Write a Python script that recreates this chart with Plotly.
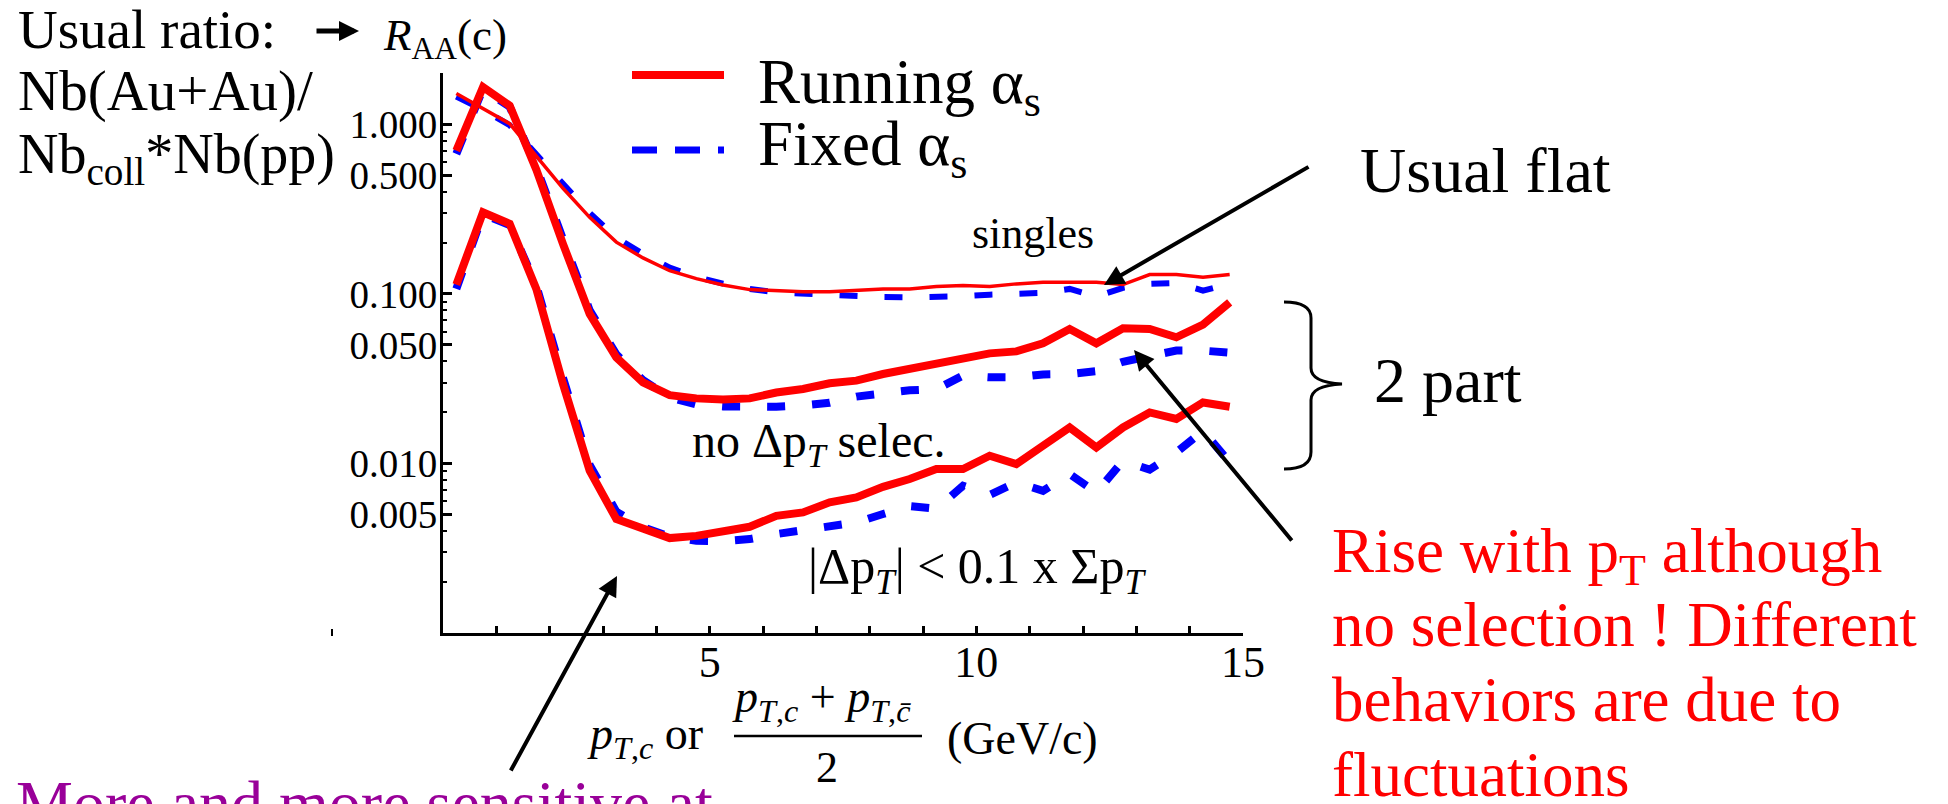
import plotly.graph_objects as go

# ---------------- data ----------------
pt = [0.25, 0.75, 1.25, 1.75, 2.25, 2.75, 3.25, 3.75, 4.25, 4.75,
      5.25, 5.75, 6.25, 6.75, 7.25, 7.75, 8.25, 8.75, 9.25, 9.75,
      10.25, 10.75, 11.25, 11.75, 12.25, 12.75, 13.25, 13.75, 14.25, 14.75]

singles_running = [1.52, 1.24, 1.01, 0.65, 0.42, 0.283, 0.202, 0.163, 0.137, 0.123,
                   0.113, 0.106, 0.104, 0.103, 0.103, 0.1056, 0.107, 0.107, 0.1105, 0.112,
                   0.1105, 0.1146, 0.117, 0.117, 0.117, 0.1135, 0.130, 0.130, 0.1253, 0.130]
singles_fixed = [1.46, 1.22, 0.99, 0.67, 0.44, 0.30, 0.215, 0.172, 0.143, 0.126,
                 0.115, 0.107, 0.102, 0.100, 0.099, 0.0975, 0.0958, 0.0955, 0.0955, 0.097,
                 0.099, 0.1008, 0.1014, 0.1070, 0.0965, 0.1086, 0.1146, 0.116, 0.1046, 0.1146]
pair_running = [0.70, 1.66, 1.29, 0.54, 0.197, 0.0762, 0.0422, 0.0301, 0.0253, 0.0242,
                0.0238, 0.0242, 0.0262, 0.0275, 0.0297, 0.0308, 0.0337, 0.0361, 0.0389, 0.0413,
                0.0446, 0.0458, 0.0511, 0.0621, 0.0511, 0.0627, 0.0621, 0.0555, 0.0659, 0.0892]
pair_fixed = [0.67, 1.62, 1.27, 0.56, 0.21, 0.080, 0.044, 0.031, 0.0245, 0.0223,
              0.0217, 0.0216, 0.0216, 0.0220, 0.0228, 0.0248, 0.0259, 0.0270, 0.0274, 0.0330,
              0.0322, 0.0322, 0.0335, 0.0337, 0.0350, 0.0398, 0.0430, 0.0463, 0.0463, 0.0450]
sel_running = [0.1135, 0.303, 0.259, 0.107, 0.0294, 0.00906, 0.0047, 0.0041, 0.00363, 0.00374,
               0.00401, 0.00423, 0.00491, 0.00514, 0.0059, 0.0063, 0.00728, 0.00809, 0.00927, 0.00927,
               0.0111, 0.00992, 0.01272, 0.0163, 0.01243, 0.0163, 0.0200, 0.0183, 0.0229, 0.0216]
sel_fixed = [0.107, 0.295, 0.255, 0.112, 0.032, 0.0098, 0.0052, 0.0042, 0.0037, 0.0035,
             0.00348, 0.00358, 0.00383, 0.00404, 0.00423, 0.00449, 0.00503, 0.0056, 0.0054, 0.00738,
             0.00653, 0.00773, 0.0069, 0.00866, 0.00675, 0.01037, 0.0092, 0.0116, 0.0156, 0.01014]

x_tick_vals = [5, 10, 15]
x_tick_text = ["5", "10", "15"]
x_minor_vals = [0, 1, 2, 3, 4, 6, 7, 8, 9, 11, 12, 13, 14]
y_tick_vals = [0.005, 0.01, 0.05, 0.1, 0.5, 1.0]
y_tick_text = ["0.005", "0.010", "0.050", "0.100", "0.500", "1.000"]
y_minor_vals = [0.002, 0.003, 0.004, 0.006, 0.007, 0.008, 0.009,
                0.02, 0.03, 0.04, 0.06, 0.07, 0.08, 0.09,
                0.2, 0.3, 0.4, 0.6, 0.7, 0.8, 0.9, 2.0]

# ---------------- layout geometry (window pixels) ----------------
W, H = 1948, 804
BODY = 8                      # default page margin around the plot div
L, R, T, B = 443, 1243, 73, 633
FONT = "Liberation Serif"
RED = "#ff0000"
BLUE = "#0000ff"


def px(x):
    return (x - L) / (R - L)


def py(y):
    return (B - y) / (B - T)


fig = go.Figure()

DASH = "18px,27px"
# blue (fixed alpha_s) drawn first, red on top
fig.add_trace(go.Scatter(x=pt, y=singles_fixed, mode="lines",
                         line=dict(color=BLUE, width=6, dash=DASH), showlegend=False, hoverinfo="skip"))
fig.add_trace(go.Scatter(x=pt, y=pair_fixed, mode="lines",
                         line=dict(color=BLUE, width=8, dash=DASH), showlegend=False, hoverinfo="skip"))
fig.add_trace(go.Scatter(x=pt, y=sel_fixed, mode="lines",
                         line=dict(color=BLUE, width=8, dash=DASH), showlegend=False, hoverinfo="skip"))
fig.add_trace(go.Scatter(x=pt, y=singles_running, mode="lines",
                         line=dict(color=RED, width=3.5), showlegend=False, hoverinfo="skip"))
fig.add_trace(go.Scatter(x=pt, y=pair_running, mode="lines",
                         line=dict(color=RED, width=8), showlegend=False, hoverinfo="skip"))
fig.add_trace(go.Scatter(x=pt, y=sel_running, mode="lines",
                         line=dict(color=RED, width=8), showlegend=False, hoverinfo="skip"))


def txt(s, x, baseline, fs, color="black", anchor="left", sub=False):
    y = baseline - (0.22 if sub else 0.34) * fs
    return dict(text=s, x=px(x), y=py(y), xref="paper", yref="paper",
                xanchor=anchor, yanchor="middle", showarrow=False,
                font=dict(family=FONT, size=fs, color=color))


def arrow(tip, tail, width=4, size=1.0):
    return dict(text="", x=px(tip[0]), y=py(tip[1]), xref="paper", yref="paper",
                ax=tail[0] - tip[0], ay=tail[1] - tip[1], showarrow=True,
                arrowhead=2, arrowsize=size, arrowwidth=width, arrowcolor="black",
                standoff=0, startstandoff=0)


ann = [
    txt("Usual ratio:", 16, 48, 55),
    txt("Nb(Au+Au)/", 16, 110, 57),
    txt("Nb<sub>coll</sub>*Nb(pp)", 16, 170, 56, sub=True),
    txt("<i>R</i><sub>AA</sub>(c)", 381, 48, 45, sub=True),
    arrow((359, 31), (315, 31), width=5, size=0.8),
    txt("Running α<sub>s</sub>", 756, 100, 63, sub=True),
    txt("Fixed α<sub>s</sub>", 756, 162, 63, sub=True),
    txt("singles", 970, 248, 44),
    txt("no Δp<sub><i>T</i></sub> selec.", 690, 455, 48, sub=True),
    txt("|Δp<sub><i>T</i></sub>| < 0.1 x Σp<sub><i>T</i></sub>", 806, 581, 50, sub=True),
    txt("Usual flat", 1358, 192, 64),
    txt("2 part", 1372, 402, 64),
    txt("Rise with p<sub>T</sub> although", 1330, 569, 63, color=RED, sub=True),
    txt("no selection ! Different", 1330, 646, 63, color=RED),
    txt("behaviors are due to", 1330, 721, 63, color=RED),
    txt("fluctuations", 1330, 796, 63, color=RED),
    txt("More and more sensitive at", 14, 825, 64, color="#990099"),
    # x-axis title pieces
    txt("<i>p</i><sub><i>T</i>,<i>c</i></sub> or", 585, 747, 46, sub=True),
    txt("<i>p</i><sub><i>T</i>,<i>c</i></sub> + <i>p</i><sub><i>T</i>,<i>c\u0304</i></sub>", 730, 710, 46, sub=True),
    txt("2", 827, 782, 44, anchor="center"),
    txt("(GeV/c)", 945, 754, 46),
    # arrows
    arrow((1104, 285), (1310, 166)),
    arrow((1134, 350), (1293, 542)),
    arrow((617, 576), (510, 772)),
]

# brace path in window pixels -> paper coordinates
brace_pts = [
    ("M", [(1284, 302)]),
    ("C", [(1300, 302), (1311, 306), (1311, 318)]),
    ("L", [(1311, 368)]),
    ("C", [(1311, 378), (1322, 383), (1342, 384)]),
    ("C", [(1322, 385), (1311, 390), (1311, 400)]),
    ("L", [(1311, 452)]),
    ("C", [(1311, 464), (1300, 469), (1284, 469)]),
]
brace_path = " ".join(cmd + " " + " ".join(f"{px(a):.5f},{py(b):.5f}" for a, b in pts)
                      for cmd, pts in brace_pts)

shapes = [
    dict(type="path", path=brace_path, xref="paper", yref="paper",
         line=dict(color="black", width=3)),
    # legend samples
    dict(type="line", xref="paper", yref="paper", x0=px(632), x1=px(724), y0=py(75), y1=py(75),
         line=dict(color=RED, width=8)),
    dict(type="line", xref="paper", yref="paper", x0=px(632), x1=px(724), y0=py(150), y1=py(150),
         line=dict(color=BLUE, width=7, dash="25px,18px")),
    # fraction bar
    dict(type="line", xref="paper", yref="paper", x0=px(734), x1=px(922), y0=py(736), y1=py(736),
         line=dict(color="black", width=2.5)),
    # small stray tick mark
    dict(type="line", xref="paper", yref="paper", x0=px(332), x1=px(332), y0=py(629), y1=py(636),
         line=dict(color="black", width=2)),
]

fig.update_layout(
    width=W - BODY, height=H - BODY,
    margin=dict(l=L - BODY, r=W - R, t=T - BODY, b=H - B, pad=0),
    paper_bgcolor="white", plot_bgcolor="white",
    showlegend=False,
    annotations=ann,
    shapes=shapes,
    xaxis=dict(range=[0, 15], showline=True, linecolor="black", linewidth=3,
               ticks="inside", ticklen=7, tickwidth=2.5, tickcolor="black",
               tickmode="array", tickvals=x_tick_vals, ticktext=x_tick_text,
               tickfont=dict(family=FONT, size=44, color="black"),
               ticklabelstandoff=-12,
               minor=dict(tickmode="array", tickvals=x_minor_vals, ticks="inside",
                          ticklen=7, tickwidth=2.5, tickcolor="black", showgrid=False),
               showgrid=False, zeroline=False),
    yaxis=dict(type="log", range=[-3, 0.303], showline=True, linecolor="black", linewidth=3,
               ticks="inside", ticklen=9, tickwidth=2.5, tickcolor="black",
               tickmode="array", tickvals=y_tick_vals, ticktext=y_tick_text,
               tickfont=dict(family=FONT, size=39, color="black"),
               ticklabelstandoff=-5,
               minor=dict(tickmode="array", tickvals=y_minor_vals, ticks="inside",
                          ticklen=4, tickwidth=2, tickcolor="black", showgrid=False),
               showgrid=False, zeroline=False),
)

fig.write_html("out.html")
